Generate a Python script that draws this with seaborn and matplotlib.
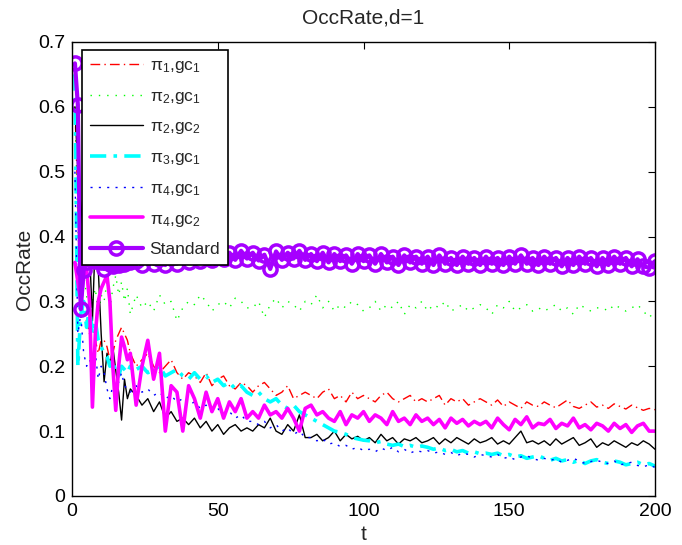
import matplotlib
matplotlib.use("Agg")
import matplotlib.pyplot as plt
import numpy as np
import seaborn as sns

# time steps: every step up to 20, then every second step
T = list(range(1, 21)) + list(range(22, 201, 2))

PI1_GC1 = [
    0.6, 0.45, 0.3, 0.28, 0.27, 0.25, 0.266, 0.24, 0.22, 0.24,
    0.24, 0.23, 0.21, 0.22, 0.24, 0.25, 0.26, 0.25, 0.24, 0.22,
    0.2, 0.21, 0.22, 0.2, 0.19, 0.2, 0.21, 0.19, 0.18, 0.19,
    0.185, 0.175, 0.19, 0.17, 0.18, 0.185, 0.17, 0.165, 0.175, 0.17,
    0.16, 0.17, 0.175, 0.165, 0.155, 0.16, 0.17, 0.15, 0.155, 0.16,
    0.155, 0.15, 0.16, 0.165, 0.15, 0.155, 0.145, 0.16, 0.15, 0.155,
    0.15, 0.145, 0.155, 0.16, 0.15, 0.145, 0.15, 0.155, 0.145, 0.15,
    0.145, 0.15, 0.155, 0.14, 0.15, 0.145, 0.15, 0.14, 0.145, 0.15,
    0.145, 0.14, 0.148, 0.138, 0.145, 0.14, 0.135, 0.145, 0.14, 0.138,
    0.145, 0.14, 0.136, 0.142, 0.148, 0.138, 0.135, 0.14, 0.145, 0.137,
    0.14, 0.135, 0.142, 0.138, 0.134, 0.14, 0.136, 0.132, 0.135, 0.133,
]

PI2_GC1 = [
    0.6, 0.42, 0.3, 0.34, 0.31, 0.26, 0.3, 0.32, 0.28, 0.31,
    0.3, 0.33, 0.29, 0.32, 0.34, 0.31, 0.33, 0.3, 0.32, 0.28,
    0.31, 0.29, 0.3, 0.285, 0.31, 0.295, 0.3, 0.27, 0.29, 0.3,
    0.295, 0.31, 0.3, 0.285, 0.295, 0.3, 0.29, 0.305, 0.3, 0.29,
    0.29, 0.3, 0.275, 0.295, 0.305, 0.29, 0.3, 0.295, 0.285, 0.3,
    0.295, 0.31, 0.29, 0.3, 0.285, 0.295, 0.29, 0.3, 0.295, 0.285,
    0.29, 0.3, 0.285, 0.295, 0.29, 0.3, 0.28, 0.295, 0.29, 0.3,
    0.285, 0.295, 0.29, 0.3, 0.285, 0.29, 0.295, 0.285, 0.29, 0.295,
    0.29, 0.28, 0.295, 0.29, 0.3, 0.285, 0.29, 0.295, 0.285, 0.29,
    0.285, 0.29, 0.295, 0.285, 0.29, 0.28, 0.295, 0.29, 0.285, 0.29,
    0.29, 0.285, 0.295, 0.29, 0.285, 0.29, 0.295, 0.285, 0.275, 0.285,
]

PI2_GC2 = [
    0.6, 0.5, 0.45, 0.4, 0.42, 0.38, 0.27, 0.4, 0.35, 0.25,
    0.176, 0.22, 0.2, 0.23, 0.194, 0.16, 0.117, 0.18, 0.15, 0.165,
    0.155, 0.14, 0.15, 0.13, 0.145, 0.12, 0.13, 0.115, 0.12, 0.11,
    0.12, 0.105, 0.115, 0.1, 0.11, 0.095, 0.105, 0.11, 0.1, 0.105,
    0.1, 0.11, 0.105, 0.12, 0.1, 0.095, 0.11, 0.1, 0.125, 0.09,
    0.09, 0.095, 0.085, 0.09, 0.1, 0.085, 0.095, 0.088, 0.092, 0.085,
    0.09, 0.082, 0.095, 0.085, 0.09, 0.08, 0.088, 0.085, 0.09, 0.082,
    0.085, 0.09, 0.08, 0.088, 0.082, 0.09, 0.085, 0.08, 0.088, 0.082,
    0.085, 0.09, 0.08, 0.085, 0.08, 0.09, 0.1, 0.082, 0.085, 0.08,
    0.085, 0.078, 0.088, 0.08, 0.085, 0.09, 0.078, 0.082, 0.088, 0.075,
    0.082, 0.078, 0.085, 0.08, 0.075, 0.082, 0.078, 0.085, 0.08, 0.072,
]

PI3_GC1 = [
    0.65, 0.2, 0.28, 0.3, 0.26, 0.29, 0.25, 0.27, 0.24, 0.23,
    0.22, 0.215, 0.2, 0.21, 0.19, 0.185, 0.2, 0.195, 0.19, 0.2,
    0.195, 0.2, 0.19, 0.195, 0.2, 0.185, 0.19, 0.195, 0.185, 0.18,
    0.19, 0.18, 0.185, 0.175, 0.18, 0.17, 0.175, 0.165, 0.17, 0.16,
    0.155, 0.16, 0.15, 0.145, 0.15, 0.14, 0.135, 0.14, 0.13, 0.125,
    0.12, 0.115, 0.11, 0.105, 0.1, 0.098, 0.095, 0.09, 0.088, 0.086,
    0.085, 0.082, 0.084, 0.08, 0.078, 0.08, 0.076, 0.078, 0.075, 0.077,
    0.075, 0.072, 0.074, 0.07, 0.072, 0.068, 0.07, 0.066, 0.068, 0.065,
    0.066, 0.064, 0.066, 0.062, 0.064, 0.06, 0.062, 0.058, 0.06, 0.062,
    0.058, 0.055, 0.058, 0.054, 0.056, 0.052, 0.055, 0.05, 0.054, 0.056,
    0.052, 0.05, 0.054, 0.052, 0.048, 0.05, 0.052, 0.048, 0.05, 0.046,
]

PI4_GC1 = [
    0.5, 0.25, 0.28, 0.22, 0.2, 0.21, 0.2, 0.22, 0.18, 0.2,
    0.19, 0.165, 0.15, 0.17, 0.18, 0.175, 0.19, 0.17, 0.165, 0.16,
    0.17, 0.16, 0.165, 0.155, 0.16, 0.15, 0.155, 0.145, 0.15, 0.14,
    0.145, 0.135, 0.14, 0.13, 0.135, 0.125, 0.13, 0.12, 0.125, 0.115,
    0.115, 0.11, 0.115, 0.105, 0.11, 0.1, 0.105, 0.095, 0.1, 0.09,
    0.09, 0.085, 0.088, 0.08, 0.082, 0.076, 0.078, 0.072, 0.075, 0.07,
    0.072, 0.068, 0.074, 0.07, 0.075, 0.068, 0.072, 0.066, 0.07, 0.068,
    0.07, 0.066, 0.068, 0.064, 0.067, 0.062, 0.066, 0.064, 0.06, 0.064,
    0.062, 0.06, 0.064, 0.058, 0.06, 0.056, 0.06, 0.062, 0.058, 0.055,
    0.058, 0.055, 0.057, 0.052, 0.055, 0.058, 0.054, 0.05, 0.053, 0.055,
    0.052, 0.05, 0.054, 0.048, 0.05, 0.052, 0.047, 0.045, 0.048, 0.044,
]

PI4_GC2 = [
    0.36, 0.33, 0.3, 0.34, 0.35, 0.3, 0.137, 0.25, 0.3, 0.32,
    0.33, 0.34, 0.3, 0.2, 0.132, 0.2, 0.245, 0.23, 0.21, 0.22,
    0.14, 0.2, 0.24, 0.18, 0.22, 0.1, 0.17, 0.16, 0.1, 0.17,
    0.15, 0.12, 0.16, 0.13, 0.15, 0.12, 0.145, 0.13, 0.15, 0.12,
    0.13, 0.12, 0.14, 0.125, 0.13, 0.12, 0.135, 0.12, 0.1, 0.135,
    0.14, 0.125, 0.13, 0.12, 0.115, 0.13, 0.11, 0.125, 0.12, 0.13,
    0.115, 0.125, 0.12, 0.11, 0.13, 0.115, 0.12, 0.11, 0.125, 0.115,
    0.12, 0.11, 0.118, 0.105, 0.12, 0.112, 0.118, 0.108, 0.115, 0.11,
    0.115, 0.105, 0.12, 0.11, 0.102, 0.118, 0.11, 0.122, 0.105, 0.112,
    0.11, 0.118, 0.104, 0.112, 0.108, 0.12, 0.105, 0.11, 0.102, 0.112,
    0.108, 0.1, 0.112, 0.104, 0.11, 0.098, 0.108, 0.112, 0.1, 0.1,
]

STANDARD = [
    0.667, 0.603, 0.288, 0.349, 0.36, 0.365, 0.37, 0.362, 0.368, 0.36,
    0.35, 0.362, 0.358, 0.355, 0.36, 0.356, 0.362, 0.358, 0.364, 0.36,
    0.362, 0.356, 0.368, 0.358, 0.366, 0.356, 0.367, 0.358, 0.37, 0.36,
    0.372, 0.362, 0.375, 0.364, 0.377, 0.366, 0.375, 0.364, 0.378, 0.366,
    0.375, 0.363, 0.372, 0.35, 0.377, 0.364, 0.375, 0.366, 0.378, 0.364,
    0.373, 0.362, 0.375, 0.36, 0.373, 0.362, 0.371, 0.358, 0.373, 0.362,
    0.371, 0.358, 0.373, 0.36, 0.369, 0.356, 0.371, 0.36, 0.369, 0.358,
    0.369, 0.356, 0.371, 0.358, 0.367, 0.356, 0.369, 0.358, 0.367, 0.356,
    0.369, 0.358, 0.367, 0.356, 0.369, 0.358, 0.371, 0.358, 0.367, 0.356,
    0.369, 0.358, 0.367, 0.354, 0.367, 0.356, 0.369, 0.358, 0.367, 0.354,
    0.367, 0.356, 0.369, 0.358, 0.367, 0.354, 0.365, 0.354, 0.352, 0.362,
]

LABELS = [
    "π$_1$,gc$_1$", "π$_2$,gc$_1$", "π$_2$,gc$_2$", "π$_3$,gc$_1$",
    "π$_4$,gc$_1$", "π$_4$,gc$_2$", "Standard",
]

sns.set_style("white")
plt.rcParams["font.family"] = ["Liberation Sans", "DejaVu Sans"]
plt.rcParams["mathtext.fontset"] = "custom"
plt.rcParams["mathtext.rm"] = "Liberation Sans"
plt.rcParams["mathtext.it"] = "Liberation Sans:italic"

fig = plt.figure(figsize=(6.82, 5.45), dpi=100)
ax = fig.add_axes([0.1056, 0.090, 0.8548, 0.833])

styles = [
    dict(color="#FF0000", lw=1.0, linestyle=(0, (7, 3, 1, 3))),
    dict(color="#00FF00", lw=1.0, linestyle=(0, (1, 5))),
    dict(color="black", lw=1.0, linestyle="-"),
    dict(color="#00FFFF", lw=2.6, linestyle=(0, (4.5, 2, 1, 2))),
    dict(color="#0000FF", lw=1.0, linestyle=(0, (1.5, 4.5))),
    dict(color="#FF00FF", lw=2.6, linestyle="-"),
    dict(color="#A600FF", lw=3.0, linestyle="-", marker="o", markersize=9.5,
         markerfacecolor="none", markeredgecolor="#A600FF", markeredgewidth=2.5),
]
series = [PI1_GC1, PI2_GC1, PI2_GC2, PI3_GC1, PI4_GC1, PI4_GC2, STANDARD]

for vals, lab, st in zip(series, LABELS, styles):
    sns.lineplot(x=T, y=vals, ax=ax, label=lab, **st)

ax.set_xlim(0, 200)
ax.set_ylim(0, 0.7)
ax.set_xticks([0, 50, 100, 150, 200])
ax.set_yticks(np.arange(0, 0.71, 0.1))
ax.set_yticklabels(["0", "0.1", "0.2", "0.3", "0.4", "0.5", "0.6", "0.7"])
ax.tick_params(direction="in", top=True, right=True, length=5, width=0.8,
               labelsize=14, colors="black", pad=5)
for sp in ax.spines.values():
    sp.set_color("black")
    sp.set_linewidth(1.0)

ax.set_title("OccRate,d=1", fontsize=15, pad=13)
ax.set_xlabel("t", fontsize=15, labelpad=4)
ax.set_ylabel("OccRate", fontsize=15, labelpad=3)

leg = ax.legend(loc="upper left", bbox_to_anchor=(0.017, 0.982), fontsize=12.5,
                frameon=True, fancybox=False, framealpha=1, edgecolor="black",
                handlelength=3.05, labelspacing=0.78, borderpad=0.45,
                handletextpad=0.4, borderaxespad=0)
leg.get_frame().set_linewidth(1.2)

fig.savefig("out.png", dpi=100)
